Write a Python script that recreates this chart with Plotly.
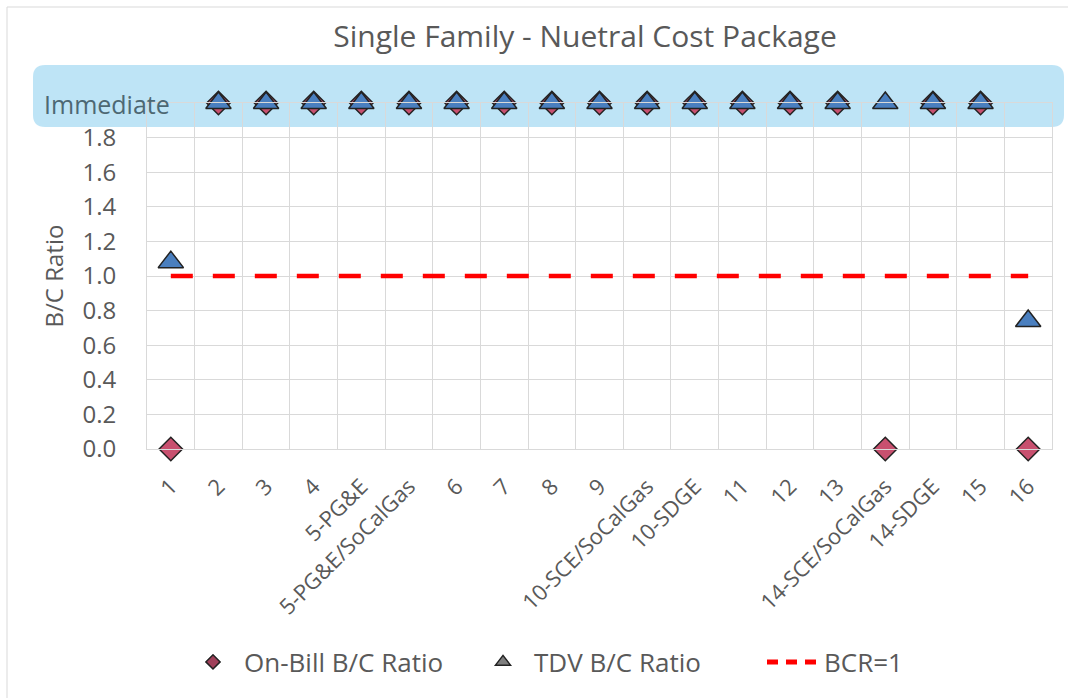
import plotly.graph_objects as go

categories = ["1", "2", "3", "4", "5-PG&E", "5-PG&E/SoCalGas", "6", "7", "8", "9",
              "10-SCE/SoCalGas", "10-SDGE", "11", "12", "13", "14-SCE/SoCalGas",
              "14-SDGE", "15", "16"]
IMMEDIATE = 2.0  # plotted position of "Immediate" payback
on_bill = [0.0, IMMEDIATE, IMMEDIATE, IMMEDIATE, IMMEDIATE, IMMEDIATE, IMMEDIATE,
           IMMEDIATE, IMMEDIATE, IMMEDIATE, IMMEDIATE, IMMEDIATE, IMMEDIATE,
           IMMEDIATE, IMMEDIATE, 0.0, IMMEDIATE, IMMEDIATE, 0.0]
tdv = [1.08, IMMEDIATE, IMMEDIATE, IMMEDIATE, IMMEDIATE, IMMEDIATE, IMMEDIATE,
       IMMEDIATE, IMMEDIATE, IMMEDIATE, IMMEDIATE, IMMEDIATE, IMMEDIATE,
       IMMEDIATE, IMMEDIATE, IMMEDIATE, IMMEDIATE, IMMEDIATE, 0.74]
bcr = [1.0] * len(categories)
y_ticks = [0.0, 0.2, 0.4, 0.6, 0.8, 1.0, 1.2, 1.4, 1.6, 1.8, 2.0]
y_ticktext = ["0.0", "0.2", "0.4", "0.6", "0.8", "1.0", "1.2", "1.4", "1.6", "1.8", ""]

W, H = 1068, 698
L, R, T, B = 147, 16, 103, 249
pw, ph = W - L - R, H - T - B

def px(x):
    return (x - L) / pw

def py(y):
    return (H - B - y) / ph

FONT = "Open Sans"
GRAY = "#595959"

fig = go.Figure()
fig.add_trace(go.Scatter(
    x=categories, y=on_bill, mode="markers", name="On-Bill B/C Ratio",
    marker=dict(symbol="diamond", size=18, color="#c8506f",
                line=dict(color="#222222", width=1.5)),
    cliponaxis=False, showlegend=False))
fig.add_trace(go.Scatter(
    x=categories, y=tdv, mode="markers", name="TDV B/C Ratio",
    marker=dict(symbol="triangle-up", size=22, color="#4a7fbf",
                line=dict(color="#222222", width=1.5)),
    cliponaxis=False, showlegend=False))
fig.add_trace(go.Scatter(
    x=categories, y=bcr, mode="lines", name="BCR=1",
    line=dict(color="#ff0000", width=4.5, dash="22px,20px"),
    showlegend=False))
# legend entries
fig.add_trace(go.Scatter(
    x=[None], y=[None], mode="markers", name="On-Bill B/C Ratio",
    marker=dict(symbol="diamond", size=11, color="#a0405a",
                line=dict(color="#222222", width=1.5))))
fig.add_trace(go.Scatter(
    x=[None], y=[None], mode="markers", name="TDV B/C Ratio",
    marker=dict(symbol="triangle-up", size=13, color="#7f7f7f",
                line=dict(color="#222222", width=1.5))))
fig.add_trace(go.Scatter(
    x=[None], y=[None], mode="lines", name="BCR=1",
    line=dict(color="#ff0000", width=5, dash="11px,8px")))

# rounded light-blue band behind "Immediate"
x0, x1, y0, y1, r = 33, 1064, 65, 127, 12
path = (f"M {px(x0 + r)},{py(y0)} L {px(x1 - r)},{py(y0)} "
        f"Q {px(x1)},{py(y0)} {px(x1)},{py(y0 + r)} L {px(x1)},{py(y1 - r)} "
        f"Q {px(x1)},{py(y1)} {px(x1 - r)},{py(y1)} "
        f"L {px(x0 + r)},{py(y1)} Q {px(x0)},{py(y1)} {px(x0)},{py(y1 - r)} "
        f"L {px(x0)},{py(y0 + r)} Q {px(x0)},{py(y0)} {px(x0 + r)},{py(y0)} Z")
fig.add_shape(type="path", path=path, xref="paper", yref="paper",
              fillcolor="rgba(150,212,240,0.62)", line=dict(width=0), layer="below")
# outer chart border
fig.add_shape(type="rect", xref="paper", yref="paper",
              x0=px(7), x1=px(1075), y0=py(7), y1=py(705),
              line=dict(color="#d9d9d9", width=1), fillcolor="rgba(0,0,0,0)")

fig.add_annotation(text="Immediate", xref="paper", yref="paper",
                   x=px(42), y=py(104), xanchor="left", yanchor="middle",
                   showarrow=False, font=dict(family=FONT, size=25, color="#4d6873"))

fig.update_layout(
    width=W, height=H,
    margin=dict(l=L, r=R, t=T, b=B),
    paper_bgcolor="white", plot_bgcolor="rgba(0,0,0,0)",
    title=dict(text="Single Family - Nuetral Cost Package", xref="container",
               x=585 / W, xanchor="center", y=1 - 36 / H, yanchor="middle",
               font=dict(family=FONT, size=30, color=GRAY)),
    font=dict(family=FONT, color=GRAY),
    xaxis=dict(type="category", tickson="boundaries", showgrid=True,
               gridcolor="#d9d9d9", gridwidth=1, showline=True, linecolor="#d9d9d9",
               mirror=True, ticks="", tickangle=-45, ticklabelstandoff=15,
               tickfont=dict(family=FONT, size=22, color=GRAY),
               range=[-0.5, len(categories) - 0.5]),
    yaxis=dict(range=[0, 2.0], tickvals=y_ticks, ticktext=y_ticktext,
               showgrid=True, gridcolor="#d9d9d9", gridwidth=1, zeroline=False,
               showline=True, linecolor="#d9d9d9", mirror=True, ticks="",
               tickfont=dict(family=FONT, size=24, color=GRAY), ticklabelstandoff=25,
               title=dict(text="B/C Ratio", font=dict(family=FONT, size=24, color=GRAY),
                          standoff=12)),
    legend=dict(orientation="h", x=px(182), xanchor="left", y=py(662), yanchor="middle",
                font=dict(family=FONT, size=26, color=GRAY),
                itemwidth=52, entrywidth=223, traceorder="normal"),
)

fig.write_html("out.html", config={"displayModeBar": False},
               post_script="document.body.style.margin='0px';")
